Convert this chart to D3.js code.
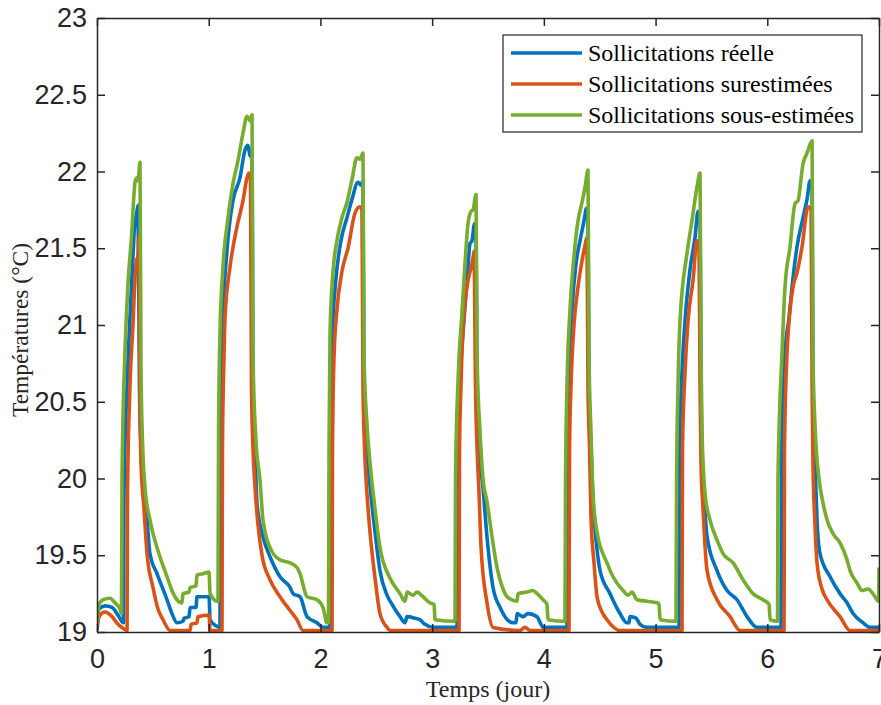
<!DOCTYPE html>
<html>
<head>
<meta charset="utf-8">
<script src="https://cdn.jsdelivr.net/npm/d3@7/dist/d3.min.js"></script>
<style>
  html, body { margin: 0; padding: 0; background: #ffffff; }
  svg { display: block; }
</style>
</head>
<body>
<div id="chart"></div>
<script>
// ---------------- DATA ----------------
const seriesNames = ["Sollicitations réelle", "Sollicitations surestimées", "Sollicitations sous-estimées"];
const xTicks = [0, 1, 2, 3, 4, 5, 6, 7];
const yTicks = [19, 19.5, 20, 20.5, 21, 21.5, 22, 22.5, 23];
const xLabel = "Temps (jour)";
const yLabel = "Températures (°C)";

// Sollicitations réelle (blue)
const timeReelle = [
  0,0.018,0.072,0.134,0.188,0.237,0.242,0.269,0.295,0.322,
  0.340,0.354,0.367,0.380,0.394,0.412,0.448,0.474,0.537,0.627,
  0.671,0.716,0.770,0.779,0.824,0.833,0.886,0.895,1.003,1.012,
  1.065,1.101,
  1.106,1.119,1.164,1.217,1.280,1.325,1.352,1.370,1.388,1.396,
  1.414,1.432,1.486,1.549,1.638,1.728,1.755,1.817,1.880,1.969,
  2.023,2.086,
  2.090,2.104,2.139,2.184,2.238,2.283,2.336,2.363,2.381,2.390,
  2.408,2.444,2.489,2.533,2.596,2.641,2.712,2.757,2.775,2.847,
  2.891,2.936,3.008,3.223,
  3.227,3.241,3.267,3.312,3.339,3.357,3.379,3.393,3.402,3.420,
  3.455,3.491,3.545,3.608,3.724,3.751,3.760,3.813,3.858,3.939,
  3.993,4.207,
  4.212,4.225,4.252,4.288,4.324,4.360,4.382,4.395,4.404,4.422,
  4.440,4.470,4.503,4.592,4.682,4.744,4.762,4.771,4.825,4.861,
  4.923,5.210,
  5.214,5.237,5.264,5.308,5.353,5.380,5.398,5.407,5.416,5.434,
  5.461,5.550,5.640,5.729,5.819,5.908,6.123,
  6.128,6.159,6.195,6.222,6.266,6.320,6.356,6.383,6.401,6.409,
  6.427,6.445,6.472,6.562,6.651,6.714,6.768,6.857,6.920,7.0
];
const tempReelle = [
  19.03,19.15,19.17,19.16,19.11,19.06,19.9,20.6,21.05,21.45,
  21.68,21.72,21.78,20.6,20.2,19.94,19.73,19.51,19.38,19.21,
  19.12,19.06,19.07,19.09,19.1,19.16,19.16,19.23,19.23,19.08,
  19.04,19.03,
  20.2,20.9,21.49,21.81,21.96,22.14,22.17,22.1,22.15,20.6,
  20.2,19.84,19.62,19.49,19.36,19.29,19.25,19.23,19.1,19.06,
  19.03,19.03,
  20.2,20.9,21.3,21.55,21.7,21.82,21.93,21.91,21.94,20.6,
  20.25,19.95,19.65,19.4,19.24,19.18,19.1,19.06,19.1,19.09,
  19.08,19.05,19.03,19.03,
  20.2,20.6,20.86,21.29,21.53,21.55,21.66,21.58,20.6,20.2,
  19.94,19.62,19.29,19.16,19.06,19.06,19.12,19.1,19.12,19.1,
  19.03,19.03,
  20.2,20.7,21.1,21.4,21.55,21.68,21.76,21.72,20.6,20.2,
  19.85,19.58,19.4,19.25,19.12,19.06,19.06,19.1,19.09,19.05,
  19.03,19.03,
  20.2,20.7,21.03,21.36,21.57,21.74,21.7,20.6,20.2,19.9,
  19.62,19.4,19.27,19.21,19.1,19.03,19.03,
  20.2,20.82,21.05,21.25,21.51,21.7,21.82,21.94,21.9,20.6,
  20.1,19.73,19.51,19.36,19.25,19.19,19.12,19.06,19.03,19.03
];

// Sollicitations surestimées (red)
const timeSur = [
  0,0.018,0.072,0.134,0.188,0.242,0.269,0.273,0.295,0.322,
  0.340,0.354,0.367,0.376,0.385,0.394,0.421,0.448,0.501,0.546,
  0.591,0.653,0.833,0.842,0.895,0.904,1.003,1.012,1.119,
  1.123,1.137,1.146,1.191,1.253,1.307,1.343,1.361,1.374,1.383,
  1.396,1.414,1.441,1.477,1.549,1.638,1.728,1.790,1.844,2.104,
  2.108,2.122,2.148,2.193,2.247,2.310,2.354,2.372,2.381,2.395,
  2.417,2.444,2.489,2.533,2.596,2.623,3.241,
  3.245,3.258,3.276,3.321,3.348,3.366,3.375,3.388,3.402,3.420,
  3.438,3.491,3.545,3.787,3.831,3.876,4.225,
  4.230,4.243,4.270,4.306,4.342,4.369,4.386,4.395,4.409,4.422,
  4.449,4.476,4.521,4.565,4.682,5.237,
  5.241,5.264,5.291,5.335,5.371,5.389,5.398,5.407,5.425,5.461,
  5.550,5.667,5.756,6.150,
  6.154,6.177,6.231,6.266,6.311,6.365,6.392,6.401,6.409,6.427,
  6.445,6.490,6.535,6.651,6.741,7.0
];
const tempSur = [
  19.01,19.1,19.13,19.1,19.05,19.02,19.01,19.9,20.6,21.0,
  21.3,21.42,21.45,21.58,20.5,20.1,19.8,19.51,19.29,19.15,
  19.08,19.01,19.01,19.05,19.06,19.1,19.11,19.01,19.01,
  20.2,20.8,21.05,21.38,21.64,21.81,21.96,21.99,21.95,20.6,
  20.2,19.95,19.7,19.5,19.34,19.23,19.14,19.08,19.01,19.01,
  20.2,20.8,21.1,21.35,21.5,21.73,21.77,21.75,20.6,20.2,
  19.9,19.65,19.35,19.12,19.03,19.01,19.01,
  20.2,20.6,20.97,21.29,21.37,21.44,21.48,20.6,20.2,19.9,
  19.55,19.19,19.03,19.01,19.03,19.01,19.01,
  20.2,20.6,21.0,21.25,21.42,21.52,21.57,20.6,20.2,19.75,
  19.45,19.23,19.13,19.08,19.01,19.01,
  20.2,20.7,21.03,21.29,21.55,21.52,20.6,20.1,19.8,19.4,
  19.21,19.1,19.01,19.01,
  20.2,20.82,21.25,21.34,21.51,21.77,21.75,20.6,20.1,19.7,
  19.45,19.28,19.21,19.1,19.01,19.01
];

// Sollicitations sous-estimées (green)
const timeSous = [
  0,0.018,0.054,0.116,0.161,0.206,0.219,0.224,0.251,0.278,
  0.311,0.331,0.340,0.358,0.367,0.385,0.394,0.412,0.430,0.474,
  0.537,0.582,0.627,0.671,0.716,0.761,0.770,0.824,0.833,0.886,
  0.895,0.949,1.003,1.012,1.079,
  1.083,1.088,1.101,1.128,1.173,1.217,1.262,1.307,1.343,1.370,
  1.388,1.396,1.423,1.459,1.486,1.549,1.638,1.728,1.790,1.817,
  1.880,1.969,2.023,2.059,2.072,
  2.077,2.086,2.113,2.148,2.193,2.238,2.283,2.327,2.354,2.381,
  2.390,2.417,2.444,2.489,2.533,2.623,2.712,2.757,2.775,2.829,
  2.865,2.918,2.981,3.017,3.026,3.205,
  3.209,3.232,3.267,3.294,3.321,3.348,3.366,3.393,3.402,3.429,
  3.455,3.491,3.536,3.581,3.625,3.670,3.760,3.769,3.849,3.903,
  3.939,3.993,4.028,4.037,4.189,
  4.194,4.207,4.234,4.270,4.306,4.342,4.369,4.395,4.404,4.422,
  4.440,4.476,4.565,4.619,4.709,4.753,4.789,4.834,4.923,5.013,
  5.031,5.040,5.183,
  5.188,5.201,5.219,5.282,5.326,5.371,5.398,5.407,5.416,5.443,
  5.487,5.550,5.604,5.694,5.783,5.872,5.962,6.016,6.025,6.092,
  6.096,6.132,6.159,6.204,6.248,6.275,6.320,6.356,6.401,6.409,
  6.427,6.463,6.499,6.535,6.589,6.651,6.714,6.741,6.803,6.848,
  6.902,6.946,6.982,6.996,7.0
];
const tempSous = [
  19.05,19.18,19.21,19.22,19.19,19.15,19.12,20.0,20.84,21.27,
  21.6,21.85,21.93,21.96,21.94,22.06,20.7,20.15,19.94,19.73,
  19.55,19.45,19.36,19.27,19.21,19.19,19.25,19.26,19.29,19.3,
  19.37,19.38,19.39,19.25,19.2,
  19.2,20.3,20.95,21.38,21.7,21.92,22.07,22.25,22.36,22.33,
  22.37,20.8,20.25,19.99,19.73,19.55,19.47,19.45,19.42,19.38,
  19.23,19.21,19.16,19.06,19.06,
  20.2,20.95,21.35,21.55,21.7,21.8,21.95,22.09,22.08,22.12,
  20.8,20.35,20.1,19.8,19.55,19.35,19.25,19.2,19.26,19.24,
  19.26,19.23,19.19,19.18,19.08,19.07,
  20.0,20.64,21.08,21.4,21.66,21.74,21.75,21.85,20.8,20.3,
  20.0,19.85,19.62,19.42,19.3,19.23,19.2,19.25,19.26,19.27,
  19.25,19.21,19.18,19.08,19.07,
  20.0,20.6,21.1,21.45,21.68,21.8,21.9,22.01,20.8,20.3,
  19.9,19.65,19.45,19.36,19.27,19.24,19.26,19.21,19.2,19.19,
  19.18,19.08,19.07,
  20.0,20.6,21.03,21.47,21.68,21.9,21.99,20.8,20.3,19.9,
  19.73,19.6,19.51,19.45,19.34,19.25,19.21,19.18,19.08,19.07,
  20.0,20.82,21.25,21.51,21.79,21.81,22.05,22.12,22.2,20.8,
  20.35,20.0,19.84,19.73,19.64,19.58,19.47,19.4,19.32,19.27,
  19.28,19.25,19.21,19.2,19.42
];

const seriesColors = ["#0072BD", "#D95319", "#77AC30"];

// ---------------- CHART ----------------
const W = 881, H = 705;
const margin = { left: 97, right: 2, top: 18, bottom: 73 };
const x0 = margin.left, x1 = W - margin.right, y0 = H - margin.bottom, y1 = margin.top;

const svg = d3.select("#chart").append("svg")
  .attr("width", W).attr("height", H)
  .style("background", "#fff");

const x = d3.scaleLinear().domain([0, 7]).range([x0, x1]);
const y = d3.scaleLinear().domain([19, 23]).range([y0, y1]);

const axisColor = "#262626";
const tickFont = "'Liberation Sans', Arial, Helvetica, sans-serif";
const serifFont = "'Liberation Serif', 'Times New Roman', Times, serif";

function zip(t, v) { const n = Math.min(t.length, v.length); const a = []; for (let i = 0; i < n; i++) a.push([t[i], v[i]]); return a; }
const data = [zip(timeReelle, tempReelle), zip(timeSur, tempSur), zip(timeSous, tempSous)];

svg.append("defs").append("clipPath").attr("id", "clip")
  .append("rect").attr("x", x0).attr("y", y1 - 2).attr("width", x1 - x0).attr("height", y0 - y1 + 4);

const line = d3.line().curve(d3.curveMonotoneX).x(d => x(d[0])).y(d => y(d[1]));
const plot = svg.append("g").attr("clip-path", "url(#clip)");
data.forEach((d, i) => {
  plot.append("path").datum(d)
    .attr("fill", "none")
    .attr("stroke", seriesColors[i])
    .attr("stroke-width", 3.6)
    .attr("stroke-linejoin", "round")
    .attr("stroke-linecap", "butt")
    .attr("d", line);
});

// Axes
const fmt = d => d3.format("")(d);
const tickLen = 8;
const gx = svg.append("g").attr("transform", `translate(0,${y0})`)
  .call(d3.axisBottom(x).tickValues(xTicks).tickSizeInner(-tickLen).tickSizeOuter(0).tickPadding(17).tickFormat(fmt));
const gxTop = svg.append("g").attr("transform", `translate(0,${y1})`)
  .call(d3.axisTop(x).tickValues(xTicks).tickSizeInner(-tickLen).tickSizeOuter(0).tickFormat(""));
const gy = svg.append("g").attr("transform", `translate(${x0},0)`)
  .call(d3.axisLeft(y).tickValues(yTicks).tickSizeInner(-tickLen).tickSizeOuter(0).tickPadding(10).tickFormat(fmt));
const gyR = svg.append("g").attr("transform", `translate(${x1},0)`)
  .call(d3.axisRight(y).tickValues(yTicks).tickSizeInner(-tickLen).tickSizeOuter(0).tickFormat(""));

[gx, gxTop, gy, gyR].forEach(g => {
  g.select(".domain").attr("stroke", axisColor).attr("stroke-width", 1.5);
  g.selectAll(".tick line").attr("stroke", axisColor).attr("stroke-width", 1.5);
  g.selectAll(".tick text").attr("fill", axisColor)
    .style("font-family", tickFont).style("font-size", "27px");
});

// Axis labels
svg.append("text")
  .attr("x", (x0 + x1) / 2).attr("y", 697)
  .attr("text-anchor", "middle")
  .style("font-family", serifFont).style("font-size", "24px").attr("fill", axisColor)
  .text(xLabel);
svg.append("text")
  .attr("transform", `translate(28,${(y0 + y1) / 2 + 5}) rotate(-90)`)
  .attr("text-anchor", "middle")
  .style("font-family", serifFont).style("font-size", "23.5px").attr("fill", axisColor)
  .text(yLabel);

// Legend
const lg = svg.append("g");
const lgX = 503, lgY = 35, lgW = 359, lgH = 97;
lg.append("rect").attr("x", lgX).attr("y", lgY).attr("width", lgW).attr("height", lgH)
  .attr("fill", "#fff").attr("stroke", axisColor).attr("stroke-width", 1.2);
seriesNames.forEach((name, i) => {
  const cy = 53 + i * 31;
  lg.append("line").attr("x1", 511).attr("x2", 582).attr("y1", cy).attr("y2", cy)
    .attr("stroke", seriesColors[i]).attr("stroke-width", 3.6);
  lg.append("text").attr("x", 588).attr("y", cy + 8)
    .style("font-family", serifFont).style("font-size", "24px").attr("fill", "#000")
    .text(name);
});
</script>
</body>
</html>
